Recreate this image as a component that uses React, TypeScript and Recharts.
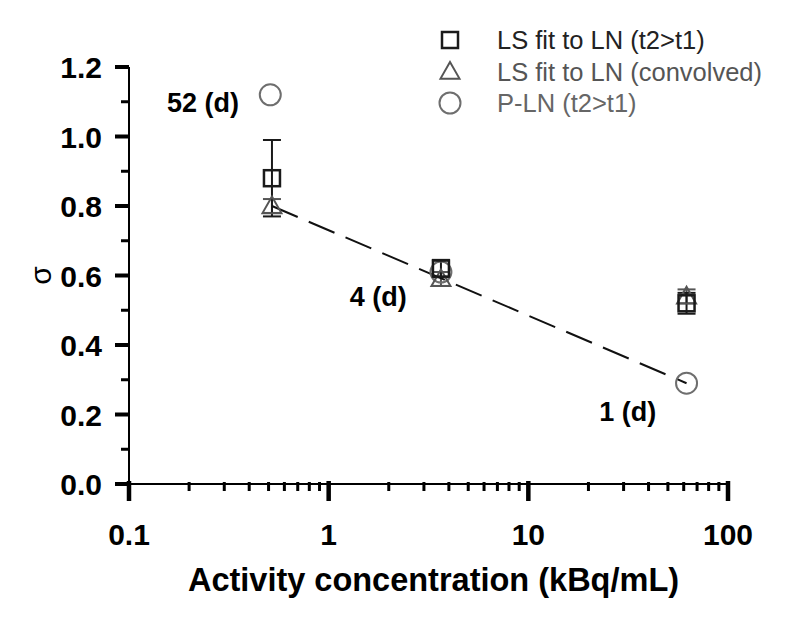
import { ComposedChart, Scatter, XAxis, YAxis, ErrorBar } from "recharts";

// concentration (kBq/mL) for each half-life group
const lsFitConc = [0.52, 3.65, 62];
const lsFitSigma = [0.88, 0.62, 0.52];
const lsFitErr = [0.11, 0.025, 0.03];

const convolvedConc = [0.52, 3.65, 62];
const convolvedSigma = [0.8, 0.59, 0.54];
const convolvedErr = [0.02, 0.02, 0.02];

const plnConc = [0.51, 3.65, 62];
const plnSigma = [1.12, 0.61, 0.29];

const fitLineConc = [0.52, 62];
const fitLineSigma = [0.8, 0.29];

const halfLifeLabels = ["52 (d)", "4 (d)", "1 (d)"];
const halfLifeConc = [0.235, 1.77, 31.5];
const halfLifeSigma = [1.1, 0.54, 0.21];

const xTicks = [
  0.1, 0.2, 0.3, 0.4, 0.5, 0.6, 0.7, 0.8, 0.9,
  1, 2, 3, 4, 5, 6, 7, 8, 9,
  10, 20, 30, 40, 50, 60, 70, 80, 90, 100,
];
const xMajor = [0.1, 1, 10, 100];
const yTicks = [0, 0.1, 0.2, 0.3, 0.4, 0.5, 0.6, 0.7, 0.8, 0.9, 1.0, 1.1, 1.2];

const legendItems = [
  { name: "LS fit to LN (t2>t1)", shape: "square", color: "#1a1a1a", text: "#222" },
  { name: "LS fit to LN (convolved)", shape: "triangle", color: "#555", text: "#555" },
  { name: "P-LN (t2>t1)", shape: "circle", color: "#6e6e6e", text: "#666" },
];

const FONT = "'Liberation Sans', Arial, sans-serif";

const lsFitData = lsFitConc.map((x, i) => ({ x, y: lsFitSigma[i], err: lsFitErr[i] }));
const convolvedData = convolvedConc.map((x, i) => ({ x, y: convolvedSigma[i], err: convolvedErr[i] }));
const plnData = plnConc.map((x, i) => ({ x, y: plnSigma[i] }));
const fitLineData = fitLineConc.map((x, i) => ({ x, y: fitLineSigma[i] }));
const labelData = halfLifeConc.map((x, i) => ({ x, y: halfLifeSigma[i], label: halfLifeLabels[i] }));

function SquareMark({ cx, cy, color = "#1a1a1a" }: any) {
  if (cx == null || cy == null) return <g />;
  return <rect x={cx - 8} y={cy - 8} width={16} height={16} fill="none" stroke={color} strokeWidth={2.5} />;
}

function TriangleMark({ cx, cy, color = "#555" }: any) {
  if (cx == null || cy == null) return <g />;
  const s = 9.5;
  return (
    <polygon
      points={`${cx},${cy - s} ${cx - s},${cy + s * 0.75} ${cx + s},${cy + s * 0.75}`}
      fill="none"
      stroke={color}
      strokeWidth={2}
    />
  );
}

function CircleMark({ cx, cy, color = "#6e6e6e" }: any) {
  if (cx == null || cy == null) return <g />;
  return <circle cx={cx} cy={cy} r={10.5} fill="none" stroke={color} strokeWidth={2} />;
}

function XTick({ x, y, payload }: any) {
  const major = xMajor.includes(payload.value);
  return (
    <g>
      <line
        x1={x}
        x2={x}
        y1={major ? y - 3 : y - 2}
        y2={major ? y + 17 : y + 7}
        stroke="#000"
        strokeWidth={major ? 4.5 : 3}
      />
      {major && (
        <text
          x={x}
          y={y + 61}
          textAnchor="middle"
          fontFamily={FONT}
          fontWeight="bold"
          fontSize={30}
          fill="#000"
        >
          {payload.value}
        </text>
      )}
    </g>
  );
}

function YTick({ x, y, payload }: any) {
  const idx = yTicks.indexOf(payload.value);
  const major = idx % 2 === 0;
  return (
    <g>
      <line
        x1={major ? x - 14 : x - 8}
        x2={x}
        y1={y}
        y2={y}
        stroke="#000"
        strokeWidth={major ? 4 : 3}
      />
      {major && (
        <text
          x={x - 27}
          y={y + 11}
          textAnchor="end"
          fontFamily={FONT}
          fontWeight="bold"
          fontSize={30}
          fill="#000"
        >
          {payload.value.toFixed(1)}
        </text>
      )}
    </g>
  );
}

function LegendBox() {
  return (
    <svg width={800} height={130} style={{ display: "block" }}>
      {legendItems.map((item, i) => {
        const cy = 40 + i * 31.5;
        const cx = 450;
        return (
          <g key={item.name}>
            {item.shape === "square" && <SquareMark cx={cx} cy={cy} color={item.color} />}
            {item.shape === "triangle" && <TriangleMark cx={cx} cy={cy} color={item.color} />}
            {item.shape === "circle" && <CircleMark cx={cx} cy={cy} color={item.color} />}
            <text x={497} y={cy + 9} fontFamily={FONT} fontSize={25.5} fill={item.text}>
              {item.name}
            </text>
          </g>
        );
      })}
    </svg>
  );
}

export default function App() {
  return (
    <div style={{ position: "absolute", left: 0, top: 0, width: 800, height: 619, background: "#fff" }}>
      <ComposedChart
        width={800}
        height={619}
        margin={{ top: 67, right: 72, bottom: 0, left: 0 }}
      >
        <XAxis
          type="number"
          dataKey="x"
          scale="log"
          domain={[0.1, 100]}
          allowDataOverflow
          ticks={xTicks}
          interval={0}
          tick={<XTick />}
          tickSize={0}
          tickMargin={0}
          tickLine={false}
          axisLine={{ stroke: "#000", strokeWidth: 2 }}
          height={135}
          label={({ viewBox }: any) => (
            <text
              x={viewBox.x + viewBox.width / 2 + 5}
              y={viewBox.y + 107}
              textAnchor="middle"
              fontFamily={FONT}
              fontWeight="bold"
              fontSize={32.5}
              fill="#000"
            >
              Activity concentration (kBq/mL)
            </text>
          )}
        />
        <YAxis
          type="number"
          dataKey="y"
          domain={[0, 1.2]}
          ticks={yTicks}
          interval={0}
          tick={<YTick />}
          tickSize={0}
          tickMargin={0}
          tickLine={false}
          axisLine={{ stroke: "#000", strokeWidth: 2 }}
          width={129}
          label={({ viewBox }: any) => (
            <text
              x={viewBox.x + 40}
              y={viewBox.y + viewBox.height / 2}
              textAnchor="middle"
              dominantBaseline="central"
              transform={`rotate(-90, ${viewBox.x + 40}, ${viewBox.y + viewBox.height / 2})`}
              fontFamily={FONT}
              fontSize={30}
              fill="#000"
            >
              σ
            </text>
          )}
        />
        <Scatter
          name="fit"
          data={fitLineData}
          line={{ stroke: "#111", strokeWidth: 2, strokeDasharray: "28 12" }}
          shape={() => <g />}
          legendType="none"
          isAnimationActive={false}
        />
        <Scatter
          name="P-LN (t2>t1)"
          data={plnData}
          shape={<CircleMark />}
          isAnimationActive={false}
        />
        <Scatter
          name="LS fit to LN (convolved)"
          data={convolvedData}
          shape={<TriangleMark />}
          isAnimationActive={false}
        >
          <ErrorBar dataKey="err" direction="y" width={9} stroke="#555" strokeWidth={2} isAnimationActive={false} />
        </Scatter>
        <Scatter
          name="LS fit to LN (t2>t1)"
          data={lsFitData}
          shape={<SquareMark />}
          isAnimationActive={false}
        >
          <ErrorBar dataKey="err" direction="y" width={9} stroke="#1a1a1a" strokeWidth={2} isAnimationActive={false} />
        </Scatter>
        <Scatter
          name="labels"
          data={labelData}
          legendType="none"
          isAnimationActive={false}
          shape={(p: any) => (
            <text
              x={p.cx}
              y={p.cy + 10}
              textAnchor="middle"
              fontFamily={FONT}
              fontWeight="bold"
              fontSize={27}
              fill="#000"
            >
              {p.payload.label}
            </text>
          )}
        />
      </ComposedChart>
      <div style={{ position: "absolute", left: 0, top: 0, pointerEvents: "none" }}>
        <LegendBox />
      </div>
    </div>
  );
}
